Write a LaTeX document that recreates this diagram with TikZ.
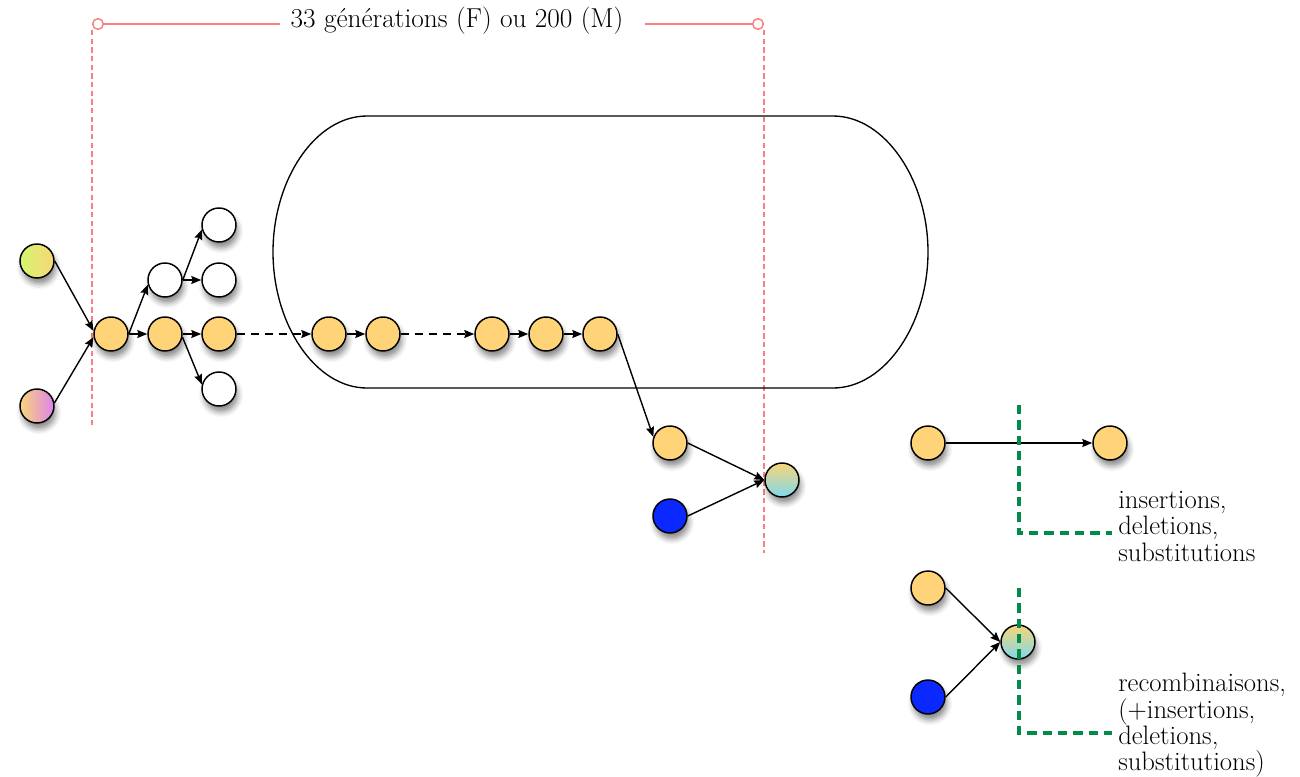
\documentclass[tikz,border=0pt]{standalone}
\usetikzlibrary{arrows.meta,shadows.blur}
\definecolor{orng}{RGB}{255,212,121}
\definecolor{limeA}{RGB}{212,245,110}
\definecolor{orngA}{RGB}{248,214,120}
\definecolor{pinkB}{RGB}{222,130,236}
\definecolor{bleu}{RGB}{10,40,255}
\definecolor{cyanM}{RGB}{128,215,236}
\definecolor{rouge}{RGB}{250,128,128}
\definecolor{vert}{RGB}{0,140,70}
\begin{document}
\begin{tikzpicture}[x=0.75pt,y=-0.75pt,
  ball/.style={circle,draw=black,line width=1.1pt,minimum size=25.5pt,inner sep=0pt,
    blur shadow={shadow xshift=1.5pt,shadow yshift=-4.5pt,shadow blur radius=4pt,shadow opacity=45}},
  yel/.style={ball,fill=orng},
  wht/.style={ball,fill=white},
  blu/.style={ball,fill=bleu},
  arr/.style={line width=1.05pt,-{Stealth[length=7.5pt,width=6pt,inset=1pt]}},
  darr/.style={arr,dash pattern=on 6pt off 4.5pt},
  red/.style={rouge,line width=1.1pt},
  reddash/.style={rouge,line width=0.8pt,dash pattern=on 4pt off 2.5pt},
  grn/.style={vert,line width=2.4pt,dash pattern=on 7pt off 4.5pt},
  lbl/.style={font=\fontsize{20}{19.8}\selectfont,inner sep=0pt}
]
\useasboundingbox (0,0) rectangle (1300,776);
% top measure
\node[lbl,font=\fontsize{20.5}{21}\selectfont] (titre) at (457,21) {33 générations (F) ou 200 (M)};
\node[circle,draw=rouge,line width=1.1pt,fill=white,minimum size=8pt,inner sep=0pt] (cl) at (98,24) {};
\node[circle,draw=rouge,line width=1.1pt,fill=white,minimum size=8pt,inner sep=0pt] (cr) at (758,24) {};
\coordinate (tl) at (280,24);
\coordinate (tr) at (645,24);
\draw[red] (cl) -- (tl);
\draw[red] (tr) -- (cr);
\coordinate (dl1) at (92,30); \coordinate (dl2) at (92,425);
\coordinate (dr1) at (764,30); \coordinate (dr2) at (764,553);
\draw[reddash] (dl1) -- (dl2);
\draw[reddash] (dr1) -- (dr2);
% stadium
\draw[line width=1pt] (367,116) -- (833,116)
  .. controls (885,116) and (928,180) .. (928,252)
  .. controls (928,324) and (885,388) .. (833,388)
  -- (367,388)
  .. controls (315,388) and (273,324) .. (273,252)
  .. controls (273,180) and (315,116) .. cycle;
% nodes
\node[ball,left color=limeA,right color=orngA] (A) at (37,261) {};
\node[ball,left color=orngA,right color=pinkB] (B) at (37,406) {};
\node[yel] (N1) at (111,334) {};
\node[yel] (N2) at (165,334) {};
\node[yel] (N3) at (219,334) {};
\node[wht] (W1) at (165,280) {};
\node[wht] (W2) at (219,225) {};
\node[wht] (W3) at (219,280) {};
\node[wht] (W4) at (219,389) {};
\node[yel] (C1) at (329,334) {};
\node[yel] (C2) at (383,334) {};
\node[yel] (D1) at (492,334) {};
\node[yel] (D2) at (546,334) {};
\node[yel] (D3) at (600,334) {};
\node[yel] (E) at (670,443) {};
\node[blu] (F) at (670,516) {};
\node[ball,top color=orngA,bottom color=cyanM] (M) at (782,480) {};
\node[yel] (R1) at (928,443) {};
\node[yel] (R2) at (1110,443) {};
\node[yel] (S1) at (928,588) {};
\node[blu] (S2) at (928,697) {};
\node[ball,top color=orngA,bottom color=cyanM] (SM) at (1018,642) {};
% arrows
\draw[arr] (A.east) -- (N1.170);
\draw[arr] (B.10) -- (N1.190);
\draw[arr] (N1.east) -- (W1.195);
\draw[arr] (N1) -- (N2);
\draw[arr] (N2) -- (N3);
\draw[arr] (N2.-10) -- (W4.165);
\draw[arr] (W1.east) -- (W2.195);
\draw[arr] (W1) -- (W3);
\draw[darr] (N3) -- (C1);
\draw[arr] (C1) -- (C2);
\draw[darr] (C2) -- (D1);
\draw[arr] (D1) -- (D2);
\draw[arr] (D2) -- (D3);
\draw[arr] (D3.east) -- (E.160);
\draw[arr] (E.east) -- (M.west);
\draw[arr] (F.east) -- (M.west);
\draw[arr] (R1) -- (R2);
\draw[arr] (S1.east) -- (SM.west);
\draw[arr] (S2.east) -- (SM.west);
% green dashed
\coordinate (g1) at (1019,405); \coordinate (g2) at (1019,533); \coordinate (g3) at (1112,533);
\coordinate (h1) at (1019,588); \coordinate (h2) at (1019,733); \coordinate (h3) at (1112,733);
\draw[grn] (g1) -- (g2) -- (g3);
\draw[grn] (h1) -- (h2) -- (h3);
% labels
\node[lbl,anchor=north west,align=left] (t1) at (1118,491) {insertions,\\deletions,\\substitutions};
\node[lbl,anchor=north west,align=left] (t2) at (1118,673) {recombinaisons,\\(+insertions,\\deletions,\\substitutions)};
\end{tikzpicture}
\end{document}
